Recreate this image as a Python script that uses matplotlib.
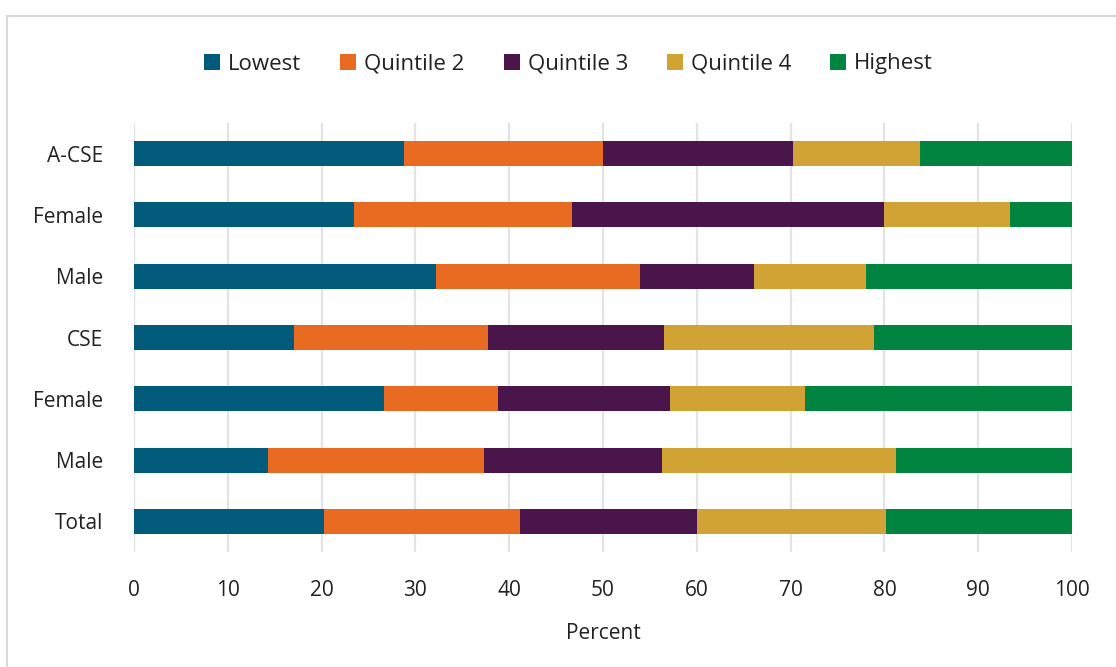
import numpy as np
import matplotlib
matplotlib.use('Agg')
import matplotlib.pyplot as plt
from matplotlib.patches import Rectangle

plt.rcParams['font.family'] = ['Open Sans', 'DejaVu Sans']

# rows, top to bottom
groups = ['A-CSE', 'Female', 'Male', 'CSE', 'Female', 'Male', 'Total']
series = ['Lowest', 'Quintile 2', 'Quintile 3', 'Quintile 4', 'Highest']
colors = ['#025b7b', '#e96b21', '#4a154b', '#d1a334', '#00843f']

lowest = [28.8, 23.5, 32.2, 17.1, 26.7, 14.3, 20.3]
quint2 = [21.2, 23.2, 21.7, 20.6, 12.1, 23.0, 20.9]
quint3 = [20.3, 33.3, 12.2, 18.8, 18.3, 19.0, 18.8]
quint4 = [13.5, 13.4, 11.9, 22.4, 14.4, 24.9, 20.2]
highest = [16.2, 6.6, 22.0, 21.1, 28.5, 18.8, 19.8]

values = [lowest, quint2, quint3, quint4, highest]

fig = plt.figure(figsize=(11.16, 6.67), dpi=100)
ax = fig.add_axes([0.1201, 0.1724, 0.8405, 0.6432])

# outer frame of the chart box
fig.patches.append(Rectangle((7/1116, -0.01), 1.1, (667-16)/667 + 0.01,
                             transform=fig.transFigure, fill=False,
                             edgecolor='#d9d9d9', linewidth=1.5))

y = np.arange(len(groups))[::-1]
left = np.zeros(len(groups))
for name, vals, col in zip(series, values, colors):
    ax.barh(y, vals, left=left, height=0.41, color=col, label=name, zorder=3)
    left += np.array(vals)

ax.set_xlim(0, 100)
ax.set_ylim(-0.5, len(groups) - 0.5)
ax.set_xticks(np.arange(0, 101, 10))
ax.set_yticks(y)
ax.set_yticklabels(groups)
ax.grid(axis='x', color='#e3e3e3', linewidth=1.6, zorder=0)
for s in ax.spines.values():
    s.set_visible(False)
ax.tick_params(axis='both', length=0, labelsize=15, colors='#222222')
ax.tick_params(axis='y', pad=22)
ax.tick_params(axis='x', pad=20)
ax.set_xlabel('Percent', fontsize=15, color='#222222', labelpad=16)

fig.legend(loc='center', bbox_to_anchor=(0.5094, 1 - 64/667), ncol=5,
           frameon=False, fontsize=16, handlelength=0.72, handleheight=0.72,
           handletextpad=0.36, columnspacing=1.75, labelcolor='#222222')

fig.savefig('out.png', dpi=100)
